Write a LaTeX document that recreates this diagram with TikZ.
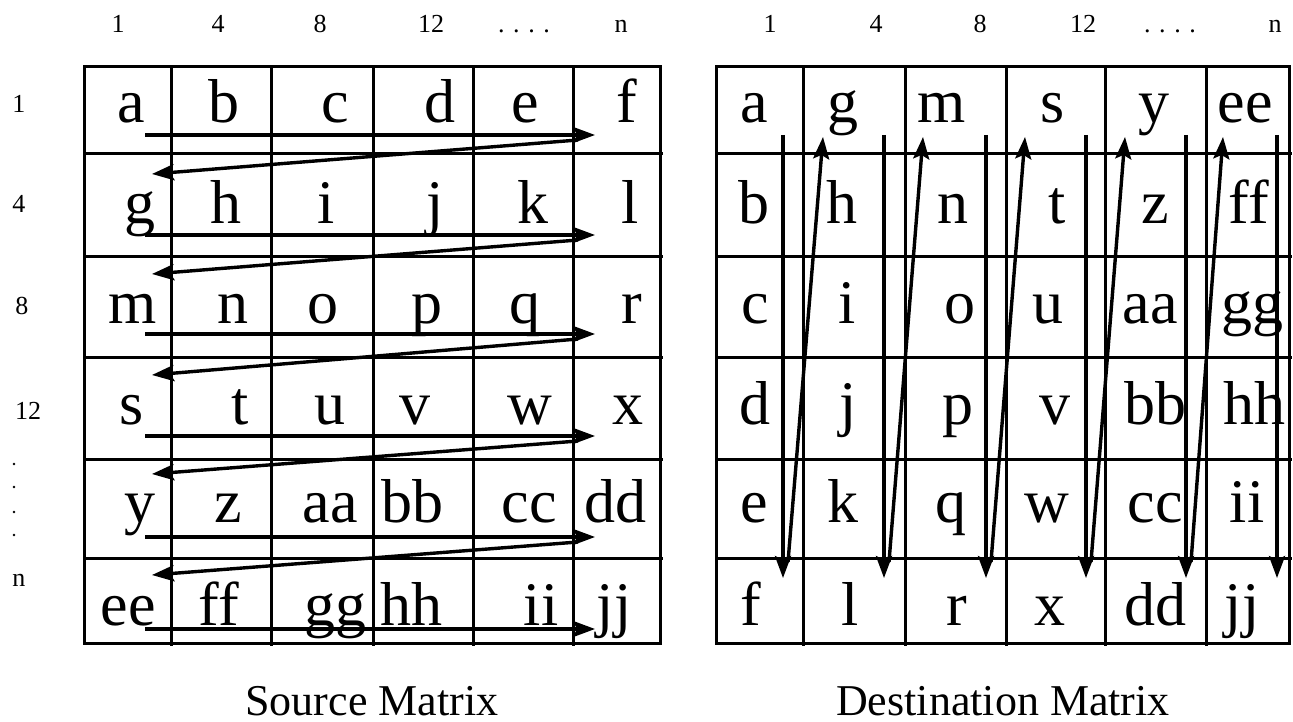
\documentclass[tikz,border=0pt]{standalone}
\usepackage{fontspec}
\setmainfont{Liberation Serif}
\usetikzlibrary{arrows.meta}
\begin{document}
\begin{tikzpicture}[x=1pt,y=-1pt,
  grid/.style={line width=3pt},
  flow/.style={line width=3.4pt,-{Stealth[length=22pt,width=16pt,inset=4pt]}},
  cell/.style={font=\fontsize{62}{62}\selectfont, anchor=base, inner sep=0pt},
  lab/.style={font=\fontsize{26}{26}\selectfont, anchor=base, inner sep=0pt},
  title/.style={font=\fontsize{44}{44}\selectfont, anchor=base, inner sep=0pt}]
\useasboundingbox (0,0) rectangle (1293,722);

% ---------- grids ----------
\draw[grid] (84,67) rectangle (660,643);
\foreach \x in {171,271,373,473,573} \draw[grid] (\x,67) -- (\x,646);
\foreach \y in {154,256,357,459,558} \draw[grid] (84,\y) -- (663,\y);

\draw[grid] (716,67) rectangle (1289,643);
\foreach \x in {803,905,1006,1105,1206} \draw[grid] (\x,67) -- (\x,646);
\foreach \y in {154,256,357,459,558} \draw[grid] (716,\y) -- (1292,\y);

% ---------- axis labels ----------
\foreach \t/\x in {1/118,4/218,8/320,12/431,n/621} \node[lab] (st-\t) at (\x,33) {\t};
\node[lab] (st-dots) at (524,33) {. . . .};
\foreach \t/\x in {1/770,4/876,8/980,12/1083,n/1275} \node[lab] (dt-\t) at (\x,33) {\t};
\node[lab] (dt-dots) at (1170,33) {. . . .};
\foreach \t/\x/\y in {1/19/113,4/19/213,8/22/314,12/28/419,n/19/586} \node[lab] (rl-\t) at (\x,\y) {\t};
\foreach \k/\y in {1/464,2/487,3/512,4/535} \fill (14,\y) circle (1.3);

% ---------- source letters ----------
\foreach \t/\x in {a/131,b/224,c/335,d/440,e/525,f/627} \node[cell] (s-\t) at (\x,123) {\t};
\foreach \t/\x in {g/140,h/226,i/326,j/435,k/533,l/630} \node[cell] (s-\t) at (\x,223) {\t};
\foreach \t/\x in {m/133,n/233,o/323,p/427,q/525,r/632} \node[cell] (s-\t) at (\x,323) {\t};
\foreach \t/\x in {s/132,t/240,u/330,v/415,w/530,x/628} \node[cell] (s-\t) at (\x,424) {\t};
\foreach \t/\x in {y/140,z/228,aa/330,bb/412,cc/529,dd/615} \node[cell] (s-\t) at (\x,522) {\t};
\foreach \t/\x in {ee/128,ff/219,gg/335,hh/411,ii/541,jj/614} \node[cell] (s-\t) at (\x,625) {\t};

% ---------- destination letters ----------
\foreach \t/\x in {a/754,g/843,m/942,s/1053,y/1154,ee/1245} \node[cell] (d-\t) at (\x,123) {\t};
\foreach \t/\x in {b/754,h/842,n/953,t/1057,z/1155,ff/1249} \node[cell] (d-\t) at (\x,223) {\t};
\foreach \t/\x in {c/755,i/847,o/960,u/1048,aa/1150,gg/1252} \node[cell] (d-\t) at (\x,323) {\t};
\foreach \t/\x in {d/755,j/848,p/958,v/1055,bb/1155,hh/1254} \node[cell] (d-\t) at (\x,424) {\t};
\foreach \t/\x in {e/754,k/843,q/951,w/1047,cc/1155,ii/1247} \node[cell] (d-\t) at (\x,522) {\t};
\foreach \t/\x in {f/751,l/850,r/957,x/1050,dd/1155,jj/1242} \node[cell] (d-\t) at (\x,625) {\t};

% ---------- source arrows (row-wise scan) ----------
\foreach \i/\y in {1/135,2/235,3/334,4/436,5/537,6/629} {
  \coordinate (hs\i) at (145,\y);
  \coordinate (he\i) at (595,\y);
  \coordinate (hd\i) at (578,\y+5);
  \draw[flow] (hs\i) -- (he\i);
}
\foreach \i/\j/\y in {1/2/174,2/3/274,3/4/375,4/5/474,5/6/575} {
  \coordinate (ht\j) at (152,\y);
  \draw[flow] (hd\i) -- (ht\j);
}

% ---------- destination arrows (column-wise) ----------
\foreach \i/\x in {1/783,2/884,3/986,4/1086,5/1186,6/1277} {
  \coordinate (vs\i) at (\x,135);
  \coordinate (ve\i) at (\x,578);
  \coordinate (vd\i) at (\x+5,562);
  \draw[flow] (vs\i) -- (ve\i);
}
\foreach \i/\j/\x in {1/2/823,2/3/923,3/4/1025,4/5/1125,5/6/1223} {
  \coordinate (vt\j) at (\x,137);
  \draw[flow] (vd\i) -- (vt\j);
}

% ---------- titles ----------
\node[title] (srcTitle) at (372,715) {Source Matrix};
\node[title] (dstTitle) at (1003,715) {Destination Matrix};
\end{tikzpicture}
\end{document}
